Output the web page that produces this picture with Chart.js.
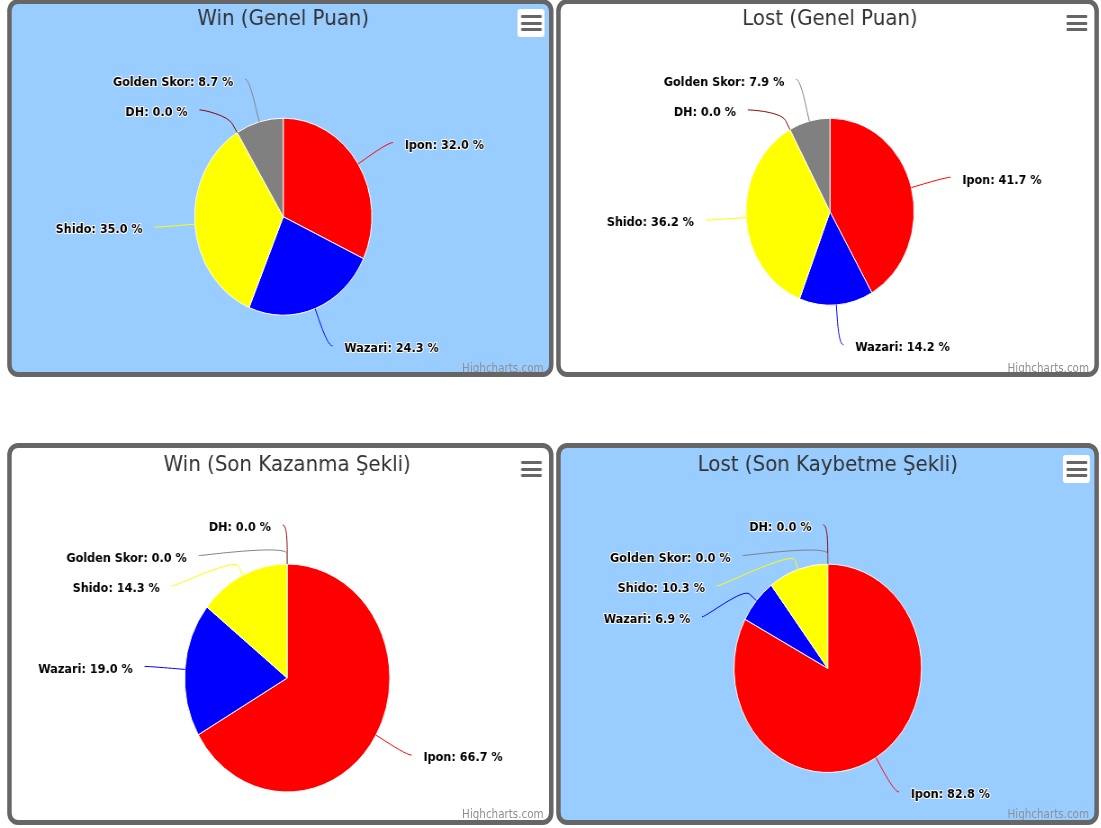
<!DOCTYPE html>
<html><head><meta charset="utf-8">
<script src="https://cdn.jsdelivr.net/npm/chart.js@4.4.1/dist/chart.umd.min.js"></script>
<style>
html,body{margin:0;padding:0;background:#fff;overflow:hidden;width:1101px;height:828px}
#stage{position:absolute;left:0;top:0;width:1224px;height:828px;transform:scaleX(0.9);transform-origin:0 0}
.panel{position:absolute;box-sizing:border-box;border:5px solid #666;border-radius:12px;overflow:hidden}
.panel canvas{position:absolute;left:0;top:0}
.menu{position:absolute;right:5px;width:30px;height:28px;background:#fff;border-radius:3px}
.menu i{position:absolute;left:3.5px;width:23px;height:3px;background:#666;border-radius:1px}
.credit{position:absolute;right:6px;font:11.5px/12px "DejaVu Sans",sans-serif;color:#909090;white-space:nowrap}
</style></head><body><div id="stage"></div>
<script>
// ---- data ----
const categories = ['Ipon', 'Wazari', 'Shido', 'DH', 'Golden Skor'];
const winGenelPuan = [32.0, 24.3, 35.0, 0.0, 8.7];
const lostGenelPuan = [41.7, 14.2, 36.2, 0.0, 7.9];
const winSonKazanma = [66.7, 19.0, 14.3, 0.0, 0.0];
const lostSonKaybetme = [82.8, 6.9, 10.3, 0.0, 0.0];
const titles = ['Win (Genel Puan)', 'Lost (Genel Puan)', 'Win (Son Kazanma Şekli)', 'Lost (Son Kaybetme Şekli)'];
const series = [winGenelPuan, lostGenelPuan, winSonKazanma, lostSonKaybetme];

// ---- styles / layout ----
const sliceColors = ['#FF0000', '#0000FF', '#FFFF00', '#8B0000', '#808080'];
const layout = [
  {left: 8,   top: -1,  width: 607, height: 378, bg: '#99CCFF', cx: 301.7, cy: 212.7, r: 98.5,  minY: 75.3, titleTop: 2.5, menuTop: 5, creditTop: 357.7},
  {left: 618, top: -1,  width: 603, height: 378, bg: '#FFFFFF', cx: 299.2, cy: 207.7, r: 93.5,  minY: 75.3, titleTop: 2.5, menuTop: 5, creditTop: 357.7},
  {left: 8,   top: 443, width: 607, height: 382, bg: '#FFFFFF', cx: 306.1, cy: 230.0, r: 114.0, minY: 77,   titleTop: 3.8, menuTop: 7, creditTop: 360.4},
  {left: 618, top: 443, width: 603, height: 382, bg: '#99CCFF', cx: 296.7, cy: 220.3, r: 104.2, minY: 77,   titleTop: 3.8, menuTop: 7, creditTop: 360.4}
];

function distribute(list, S, minC, maxC) {
  const groups = list.map(o => ({items: [o], first: 0}));
  const place = g => {
    const n = g.items.length;
    let m = 0;
    g.items.forEach((o, k) => { m += o.natY - k * S; });
    m /= n;
    m = Math.min(m, maxC - (n - 1) * S);
    m = Math.max(m, minC);
    g.first = m;
  };
  groups.forEach(place);
  let merged = true;
  while (merged) {
    merged = false;
    for (let j = 0; j < groups.length - 1; j++) {
      const g = groups[j], h = groups[j + 1];
      if (g.first + g.items.length * S > h.first + 1e-6) {
        g.items = g.items.concat(h.items);
        groups.splice(j + 1, 1);
        place(g);
        merged = true;
        break;
      }
    }
  }
  groups.forEach(g => g.items.forEach((o, k) => {
    o.y = g.first + k * S;
    o.clamped = (Math.abs(o.y - minC) < 0.01) || (Math.abs(o.y - maxC) < 0.01);
  }));
}

const pieLabels = {
  id: 'pieLabels',
  afterDatasetsDraw(chart, args, opts) {
    const meta = chart.getDatasetMeta(0);
    const ds = chart.data.datasets[0];
    const total = ds.data.reduce((a, b) => a + b, 0);
    const items = [];
    meta.data.forEach((arc, i) => {
      const p = arc.getProps(['x', 'y', 'startAngle', 'endAngle', 'outerRadius'], true);
      const a = (p.startAngle + p.endAngle) / 2;
      const r = p.outerRadius, R = r + opts.distance;
      const cos = Math.cos(a), sin = Math.sin(a);
      items.push({
        i, cx: p.x, cy: p.y, r, R, cos, sin,
        natX: p.x + R * cos, natY: p.y + R * sin, left: cos < 0,
        color: ds.backgroundColor[i],
        text: chart.data.labels[i] + ': ' + (ds.data[i] / total * 100).toFixed(1) + ' %'
      });
    });
    [true, false].forEach(side => {
      const list = items.filter(o => o.left === side).sort((u, v) => (u.natY - v.natY) || (u.i - v.i));
      distribute(list, opts.spacing, opts.minY, opts.maxY);
    });
    const ctx = chart.ctx;
    ctx.save();
    items.forEach(o => {
      const s = o.left ? -1 : 1;
      let x;
      if (o.clamped) x = o.natX;
      else x = o.cx + s * Math.sqrt(Math.max(0, o.R * o.R - (o.y - o.cy) * (o.y - o.cy)));
      const Px = o.cx + o.r * o.cos, Py = o.cy + o.r * o.sin;
      const Bx = o.cx + (o.r + 10) * o.cos, By = o.cy + (o.r + 10) * o.sin;
      ctx.beginPath();
      ctx.moveTo(x + 5 * s, o.y);
      ctx.bezierCurveTo(x, o.y, 2 * Bx - Px, 2 * By - Py, Bx, By);
      ctx.lineTo(Px, Py);
      ctx.strokeStyle = o.color;
      ctx.lineWidth = 1;
      ctx.stroke();
      ctx.font = 'bold 12.5px "DejaVu Sans", sans-serif';
      ctx.textBaseline = 'middle';
      ctx.textAlign = o.left ? 'right' : 'left';
      const tx = x + 18 * s, ty = o.y + 3;
      ctx.lineJoin = 'round';
      ctx.lineWidth = 2;
      ctx.strokeStyle = '#FFFFFF';
      ctx.strokeText(o.text, tx, ty);
      ctx.fillStyle = '#000000';
      ctx.fillText(o.text, tx, ty);
    });
    ctx.restore();
  }
};

const stage = document.getElementById('stage');
layout.forEach((L, k) => {
  const panel = document.createElement('div');
  panel.className = 'panel';
  Object.assign(panel.style, {left: L.left + 'px', top: L.top + 'px', width: L.width + 'px', height: L.height + 'px', background: L.bg});
  const canvas = document.createElement('canvas');
  const cw = L.width - 10, ch = L.height - 10;
  canvas.width = cw; canvas.height = ch;
  canvas.style.width = cw + 'px'; canvas.style.height = ch + 'px';
  panel.appendChild(canvas);
  const menu = document.createElement('div');
  menu.className = 'menu';
  menu.style.top = L.menuTop + 'px';
  [6, 12.7, 19.4].forEach(t => { const b = document.createElement('i'); b.style.top = t + 'px'; menu.appendChild(b); });
  panel.appendChild(menu);
  const credit = document.createElement('div');
  credit.className = 'credit';
  credit.style.top = L.creditTop + 'px';
  credit.textContent = 'Highcharts.com';
  panel.appendChild(credit);
  stage.appendChild(panel);

  const chart = new Chart(canvas, {
    type: 'pie',
    data: {
      labels: categories,
      datasets: [{data: series[k], backgroundColor: sliceColors, borderColor: '#FFFFFF', borderWidth: 1, hoverOffset: 0, radius: L.r, clip: false}]
    },
    options: {
      responsive: false,
      animation: false,
      events: [],
      radius: L.r,
      layout: {padding: {left: 0, right: 0, top: 0, bottom: 0}},
      plugins: {
        legend: {display: false},
        tooltip: {enabled: false},
        title: {
          display: true, text: titles[k], color: '#333333',
          font: {family: '"DejaVu Sans", sans-serif', size: 22, weight: 'normal'},
          padding: {top: L.titleTop, bottom: 0}
        },
        pieLabels: {distance: 40, spacing: 30.6, minY: L.minY, maxY: ch - 18}
      }
    },
    plugins: [pieLabels]
  });

  // place the pie centre where the reference has it (radius is fixed)
  let hNet = 0, vNet = 0;
  for (let it = 0; it < 3; it++) {
    const a = chart.chartArea;
    const dx = L.cx - (a.left + a.right) / 2, dy = L.cy - (a.top + a.bottom) / 2;
    if (Math.abs(dx) < 0.05 && Math.abs(dy) < 0.05) break;
    hNet += 2 * dx; vNet += 2 * dy;
    chart.config.options.layout.padding = {left: Math.max(0, hNet), right: Math.max(0, -hNet), top: 0, bottom: Math.max(0, -vNet)};
    chart.config.options.plugins.title.padding = {top: L.titleTop, bottom: Math.max(0, vNet)};
    chart.update('none');
  }
});
</script>
</body></html>
